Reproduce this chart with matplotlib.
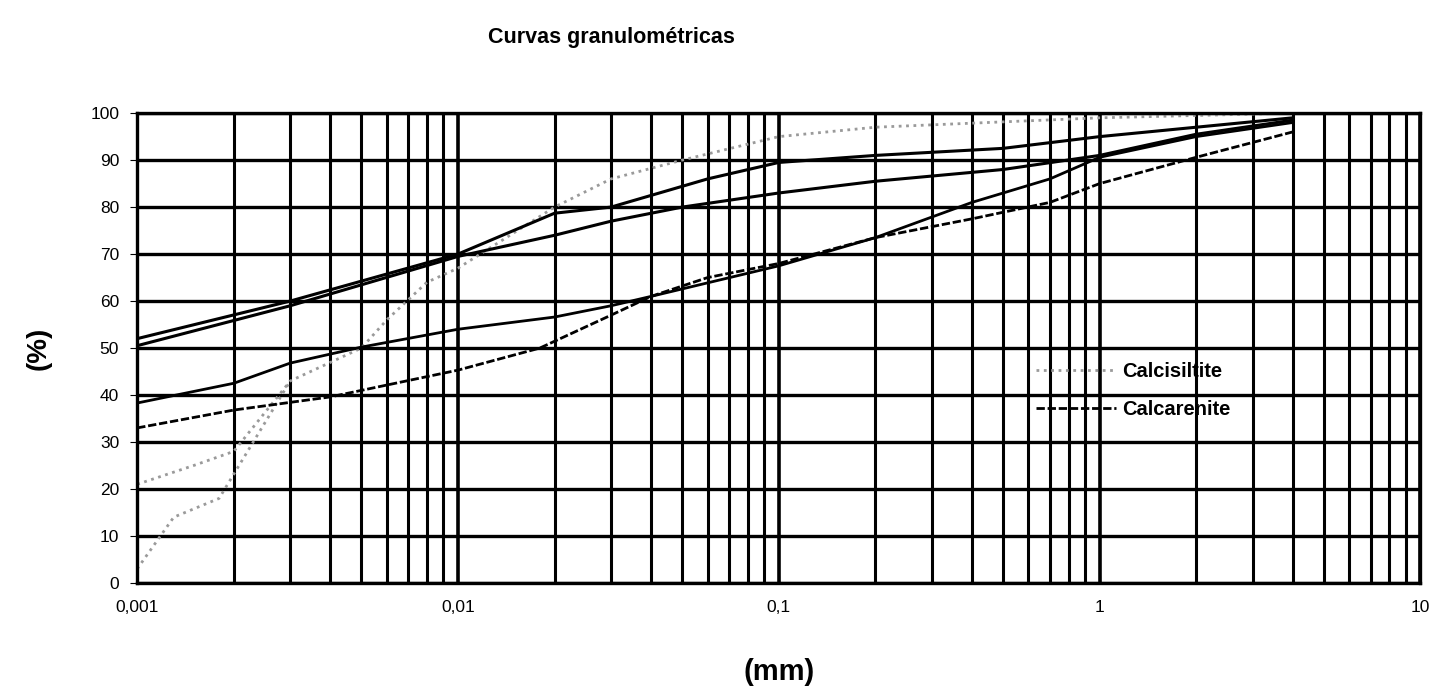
import numpy as np
import matplotlib.pyplot as plt
from matplotlib.ticker import FixedLocator, NullFormatter

plt.rcParams['font.family'] = ['Liberation Sans', 'DejaVu Sans']

# diametri (mm) e passante (%)
d_a = [0.001, 0.003, 0.01, 0.02, 0.03, 0.06, 0.1, 0.2, 0.5, 1, 2, 4]
p_a = [52, 60, 70, 78.7, 80, 86, 89.5, 91, 92.5, 95, 97, 99]

d_b = [0.001, 0.003, 0.01, 0.02, 0.03, 0.05, 0.1, 0.2, 0.5, 1, 2, 4]
p_b = [50.5, 59, 69.5, 74, 77, 80, 83, 85.5, 88, 91, 95.5, 98.5]

d_c = [0.001, 0.002, 0.003, 0.005, 0.01, 0.02, 0.03, 0.04, 0.1, 0.2, 0.4, 0.7, 1, 2, 4]
p_c = [38.3, 42.5, 46.8, 50.2, 54, 56.6, 59, 61, 67.5, 73.5, 81, 86, 90.6, 95, 98]

d_d = [0.001, 0.002, 0.004, 0.01, 0.018, 0.03, 0.04, 0.06, 0.1, 0.2, 0.4, 0.7, 1, 2, 4]
p_d = [33, 36.8, 39.6, 45.3, 50, 57, 61, 65, 68, 73.5, 77.5, 81, 85, 90.6, 96]

d_e = [0.001, 0.0015, 0.002, 0.003, 0.005, 0.006, 0.008, 0.01, 0.02, 0.03, 0.05, 0.1, 0.2, 1, 4]
p_e = [21, 25, 28, 43, 50, 56, 64, 67, 80, 86, 90, 95, 97, 99, 100]

d_f = [0.001, 0.0013, 0.0018, 0.003]
p_f = [3, 14, 18, 43]

y_ticks = list(range(0, 101, 10))
x_major = [0.001, 0.01, 0.1, 1, 10]
x_labels = ['0,001', '0,01', '0,1', '1', '10']

fig = plt.figure(figsize=(14.29, 6.94), dpi=100)
ax = fig.add_axes([0.096, 0.16, 0.898, 0.677])

ax.set_xscale('log')
ax.set_xlim(0.001, 10)
ax.set_ylim(0, 100)

# griglia pesante come nella scansione
minors = [m * 10.0**e for e in range(-3, 1) for m in range(2, 10)]
for x in minors:
    ax.axvline(x, color='black', lw=2.2, zorder=1)
for x in x_major:
    ax.axvline(x, color='black', lw=2.6, zorder=1)
for y in y_ticks:
    ax.axhline(y, color='black', lw=2.4, zorder=1)

ax.plot(d_e, p_e, color='#9a9a9a', lw=2, ls=':', label='Calcisiltite', zorder=2)
ax.plot(d_f, p_f, color='#9a9a9a', lw=2, ls=':', zorder=2)
ax.plot(d_a, p_a, color='black', lw=2.2, zorder=3)
ax.plot(d_b, p_b, color='black', lw=2.2, zorder=3)
ax.plot(d_c, p_c, color='black', lw=2, zorder=3)
ax.plot(d_d, p_d, color='black', lw=2, ls=(0, (3, 1)), label='Calcarenite', zorder=3)

ax.xaxis.set_major_locator(FixedLocator(x_major))
ax.set_xticklabels(x_labels)
ax.xaxis.set_minor_locator(FixedLocator(minors))
ax.xaxis.set_minor_formatter(NullFormatter())
ax.set_yticks(y_ticks)
ax.tick_params(axis='x', which='both', direction='in', length=5, labelsize=12.5, pad=12)
ax.tick_params(axis='y', direction='out', length=5, labelsize=12.5, pad=8)

for s in ax.spines.values():
    s.set_linewidth(2.4)

fig.text(0.428, 1 - 38 / 694, 'Curvas granulométricas', fontsize=15.5,
         fontweight='bold', ha='center', va='center')
ax.set_xlabel('(mm)', fontsize=21, fontweight='bold', labelpad=31)
ax.set_ylabel('(%)', fontsize=20, fontweight='bold', labelpad=28)

leg = ax.legend(loc='center left', bbox_to_anchor=(0.686, 0.41), frameon=False,
                fontsize=14.5, handlelength=4, labelspacing=0.95, handletextpad=0.3)
for t in leg.get_texts():
    t.set_fontweight('bold')

fig.savefig('out.png', dpi=100)
